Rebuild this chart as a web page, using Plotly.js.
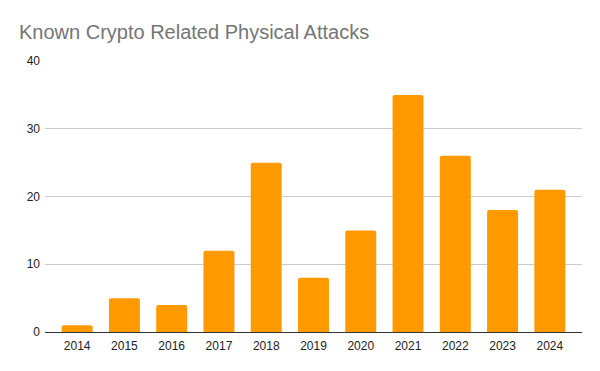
<!DOCTYPE html>
<html>
<head>
<meta charset="utf-8">
<script src="https://cdn.plot.ly/plotly-3.0.1.min.js"></script>
<style>html,body{margin:0;padding:0;background:#fff;}#chart{width:600px;height:371px;}</style>
</head>
<body>
<div id="chart"></div>
<script>
const years = ["2014","2015","2016","2017","2018","2019","2020","2021","2022","2023","2024"];
const attacks = [1, 5, 4, 12, 25, 8, 15, 35, 26, 18, 21];
const yTicks = [0, 10, 20, 30, 40];

Plotly.newPlot('chart', [{
  type: 'bar',
  x: years,
  y: attacks,
  marker: {color: '#FF9900', cornerradius: 2},
  hoverinfo: 'x+y'
}], {
  width: 600, height: 371,
  margin: {l: 45, r: 18, t: 61, b: 39},
  paper_bgcolor: '#fff', plot_bgcolor: '#fff',
  bargap: 0.345,
  showlegend: false,
  font: {family: 'Liberation Sans, Arial, sans-serif', size: 12, color: '#222'},
  title: {text: 'Known Crypto Related Physical Attacks', x: 19/600, xref: 'container', xanchor: 'left', y: 1, yref: 'container', yanchor: 'top', pad: {t: 25}, font: {family: 'Liberation Sans, Arial, sans-serif', size: 20, color: '#757575'}},
  xaxis: {type: 'category', range: [-0.68, 10.68], showgrid: false, showline: true, linecolor: '#333', linewidth: 1, ticks: '', ticklabelstandoff: 3, tickfont: {size: 12, color: '#222'}, fixedrange: true},
  yaxis: {range: [0, 40], tickvals: yTicks, ticktext: yTicks.map(String), gridcolor: '#ccc', gridwidth: 1, zeroline: false, showline: false, ticks: '', ticklabelstandoff: 4, tickfont: {size: 12, color: '#222'}, fixedrange: true}
}, {displayModeBar: false, staticPlot: true});
</script>
</body>
</html>
